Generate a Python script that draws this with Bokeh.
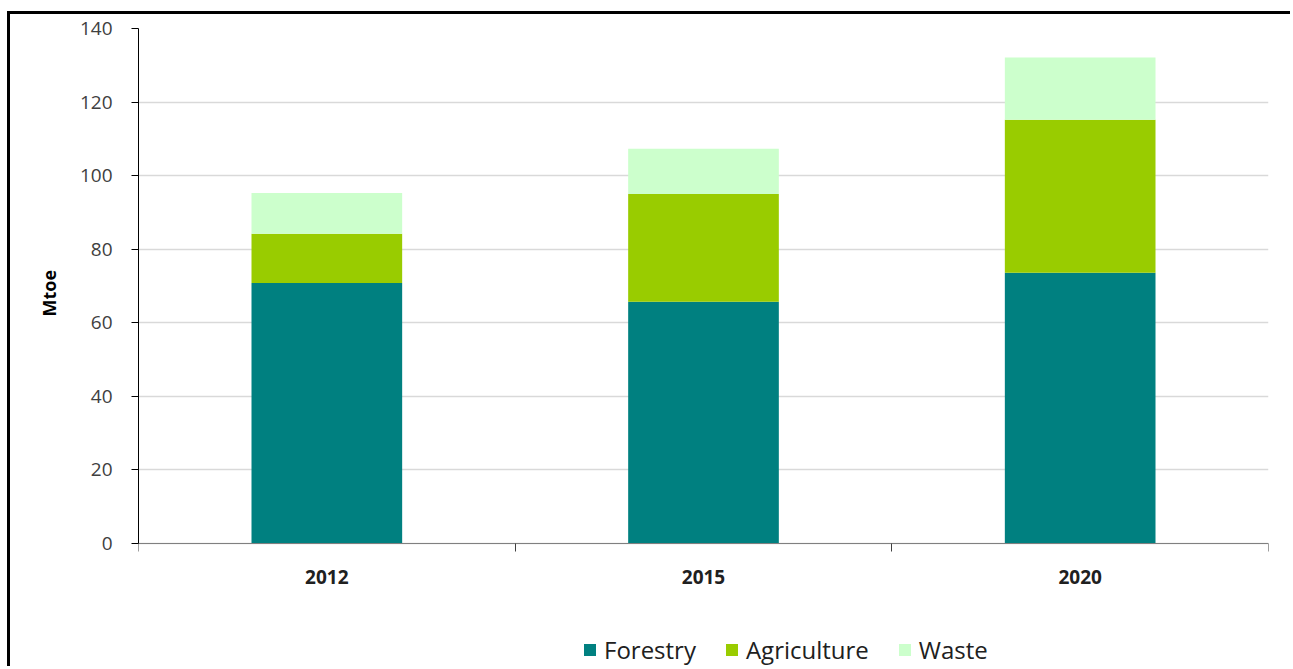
from bokeh.plotting import figure
from bokeh.models import FixedTicker, Legend, LegendItem, ColumnDataSource, Range1d, Title
from bokeh.embed import file_html
from bokeh.resources import INLINE

years = ["2012", "2015", "2020"]
forestry = [70.8, 65.7, 73.6]
agriculture = [13.4, 29.3, 41.6]
waste = [11.1, 12.3, 16.9]
series = ["Forestry", "Agriculture", "Waste"]
colors = ["#008080", "#99CC00", "#CCFFCC"]
y_ticks = [0, 20, 40, 60, 80, 100, 120, 140]

xpos = [i + 0.5 for i in range(len(years))]
src = ColumnDataSource(dict(x=xpos, Forestry=forestry, Agriculture=agriculture, Waste=waste))

FONT = "Open Sans"
Y_MIN, Y_MAX = 0, 140
PAD_BELOW = -34.25   # extra room under the axis for tick labels and legend

p = figure(width=1283, height=655, output_backend="svg", toolbar_location=None,
           x_range=Range1d(0, len(years)), y_range=Range1d(PAD_BELOW, Y_MAX),
           min_border_left=128, min_border_right=25, min_border_top=14, min_border_bottom=0,
           styles={"border-left": "3px solid black", "border-top": "3px solid black",
                   "margin-top": "11px", "margin-left": "7px"})
p.outline_line_color = None
p.background_fill_color = "white"
p.border_fill_color = "white"

renderers = p.vbar_stack(series, x="x", width=0.4, source=src, color=colors, line_color=None)

# y axis
p.yaxis.ticker = FixedTicker(ticks=y_ticks)
p.yaxis.bounds = (Y_MIN, Y_MAX)
p.yaxis.axis_line_color = "#000000"
p.yaxis.major_tick_out = 7
p.yaxis.major_tick_in = 0
p.yaxis.minor_tick_line_color = None
p.yaxis.major_label_text_font = FONT
p.yaxis.major_label_text_font_size = "19px"
p.yaxis.major_label_text_color = "#404040"
p.yaxis.major_label_standoff = 19

# y axis title, placed beside the 0-140 span
p.add_layout(Title(text="Mtoe", align="left", offset=353, standoff=31,
                   text_font=FONT, text_font_style="bold", text_font_size="18px",
                   text_color="#000000"), "left")

# x axis, drawn at y = 0
p.xaxis.fixed_location = Y_MIN
p.xaxis.ticker = FixedTicker(ticks=xpos, minor_ticks=list(range(len(years) + 1)))
p.xaxis.major_label_overrides = {x: y for x, y in zip(xpos, years)}
p.xaxis.major_tick_line_color = None
p.xaxis.minor_tick_out = 8
p.xaxis.minor_tick_in = 0
p.xaxis.minor_tick_line_color = "#404040"
p.xaxis.axis_line_color = "#808080"
p.xaxis.major_label_text_font = FONT
p.xaxis.major_label_text_font_size = "19px"
p.xaxis.major_label_text_font_style = "bold"
p.xaxis.major_label_text_color = "#202020"
p.xaxis.major_label_standoff = 18

p.xgrid.grid_line_color = None
p.ygrid.grid_line_color = "#d9d9d9"
p.ygrid.grid_line_width = 1.5

legend = Legend(items=[LegendItem(label=s, renderers=[r]) for s, r in zip(series, renderers)],
                orientation="horizontal", location=(444, 3),
                label_text_font=FONT, label_text_font_size="24px", label_text_color="#202020",
                glyph_width=15, glyph_height=15, spacing=28, label_standoff=7,
                padding=0, margin=0,
                border_line_color=None, background_fill_alpha=0)
p.add_layout(legend, "center")

open("out.html", "w").write(file_html(p, INLINE))
